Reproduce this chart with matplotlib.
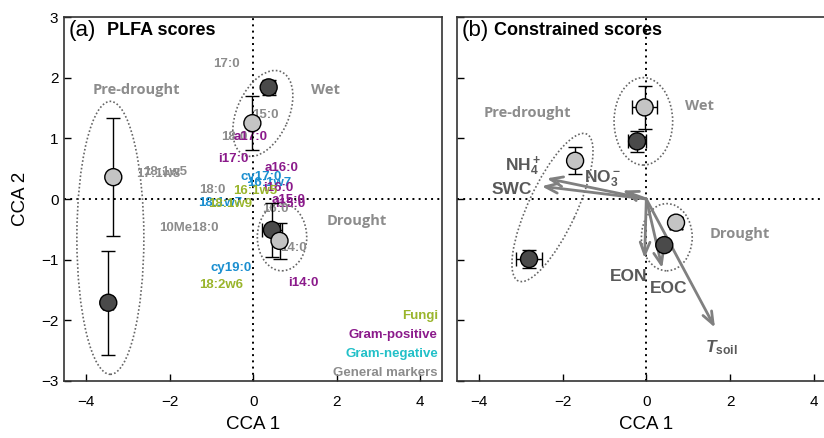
import matplotlib
matplotlib.use("Agg")
import matplotlib.pyplot as plt
from matplotlib import font_manager
from matplotlib.patches import Ellipse
from matplotlib.transforms import ScaledTranslation

# site scores, panel (a)
a_x = [-3.35, -3.47, 0.37, -0.02, 0.45, 0.63]
a_y = [0.36, -1.71, 1.84, 1.25, -0.51, -0.69]
a_xerr = [0.12, 0.12, 0.14, 0.0, 0.24, 0.10]
a_yerr = [0.97, 0.86, 0.12, 0.45, 0.45, 0.30]
a_shade = ["light", "dark", "dark", "light", "dark", "light"]

# PLFA labels, panel (a)
plfa_names = ["17:0", "15:0", "18:0", "a17:0", "i17:0", "17:1w8", "18:1w5", "a16:0", "cy17:0",
              "16:1w7", "i16:0", "16:1w5", "18:0", "18:1w7", "18:1w9", "a15:0", "i15:0", "16:0",
              "10Me18:0", "14:0", "cy19:0", "18:2w6", "i14:0"]
plfa_x = [-0.65, 0.28, -0.45, -0.06, -0.48, -2.28, -2.10, 0.68, 0.20,
          0.38, 0.60, 0.04, -0.98, -0.80, -0.56, 0.84, 0.88, 0.52,
          -1.54, 0.97, -0.53, -0.77, 1.21]
plfa_y = [2.22, 1.39, 1.03, 1.03, 0.66, 0.41, 0.44, 0.51, 0.37,
          0.27, 0.18, 0.125, 0.15, -0.07, -0.09, -0.01, -0.09, -0.17,
          -0.47, -0.81, -1.13, -1.41, -1.39]
plfa_group = ["general", "general", "general", "gpos", "gpos", "general", "general", "gpos", "gneg",
              "gneg", "gpos", "fungi", "general", "gneg", "fungi", "gpos", "gpos", "general",
              "general", "general", "gneg", "fungi", "gpos"]

# site scores, panel (b)
b_x = [-1.70, -2.80, -0.04, -0.22, 0.71, 0.43]
b_y = [0.63, -0.99, 1.51, 0.95, -0.39, -0.76]
b_xerr = [0.05, 0.31, 0.30, 0.22, 0.15, 0.05]
b_yerr = [0.22, 0.15, 0.35, 0.17, 0.10, 0.05]
b_shade = ["light", "dark", "light", "dark", "light", "dark"]

# environmental vectors, panel (b)
env_names = ["NH$_4^+$", "SWC", "NO$_3^-$", "EON", "EOC", r"$\mathbfit{T}_{\mathbf{soil}}$"]
env_x = [-2.38, -2.50, -0.57, -0.04, 0.38, 1.64]
env_y = [0.34, 0.21, 0.14, -0.98, -1.14, -2.12]
env_lx = [-2.95, -3.22, -1.05, -0.43, 0.53, 1.80]
env_ly = [0.55, 0.15, 0.34, -1.28, -1.48, -2.45]

groups = ["Pre-drought", "Wet", "Drought"]
a_group_x = [-2.80, 1.74, 2.47]
a_group_y = [1.80, 1.80, -0.36]
b_group_x = [-2.83, 1.26, 2.24]
b_group_y = [1.42, 1.54, -0.58]

legend_names = ["Fungi", "Gram-positive", "Gram-negative", "General markers"]

installed = {f.name for f in font_manager.fontManager.ttflist}
narrow = "Liberation Sans Narrow" in installed
TICK_FONT = ["Liberation Sans Narrow" if narrow else "Liberation Sans", "DejaVu Sans"]
tick_size = 12.5 if narrow else 11
axlabel_size = 15 if narrow else 13.5

plt.rcParams["font.family"] = ["Liberation Sans", "DejaVu Sans"]
plt.rcParams["mathtext.fontset"] = "custom"
plt.rcParams["mathtext.rm"] = "Liberation Sans:bold"
plt.rcParams["mathtext.bf"] = "Liberation Sans:bold"
plt.rcParams["mathtext.it"] = "Liberation Sans:italic:bold"
plt.rcParams["mathtext.bfit"] = "Liberation Sans:italic:bold"
plt.rcParams["mathtext.default"] = "bf"

SHADE = {"light": "#c4c4c4", "dark": "#4a4a4a"}
GROUP_COL = {"general": "#8c8c8c", "gpos": "#8b1a8b", "gneg": "#1b8fd0", "fungi": "#9ab52c"}
LEGEND_COL = ["#9ab52c", "#8b1a8b", "#22c0c8", "#8c8c8c"]
GRAY_TXT = "#8c8c8c"

fig = plt.figure(figsize=(8.24, 4.38), dpi=100)
ax_a = fig.add_axes([64 / 824, 57 / 438, 378 / 824, 364 / 438])
ax_b = fig.add_axes([457 / 824, 57 / 438, 379 / 824, 364 / 438])


def ring(ax, x, y, a, b, angle):
    # a, b: semi-axes in pixels, so the ellipse keeps its on-screen shape
    tr = fig.dpi_scale_trans + ScaledTranslation(x, y, ax.transData)
    ax.add_artist(Ellipse((0, 0), 2 * a / 100, 2 * b / 100, angle=angle, transform=tr,
                          fill=False, ec="#666666", lw=1.2, ls=(0, (1, 1.3)), zorder=1.5))


def sites(ax, x, y, xerr, yerr, shade):
    ax.errorbar(x, y, xerr=xerr, yerr=yerr, fmt="none", ecolor="black", elinewidth=1,
                capsize=5, capthick=1, zorder=3)
    ax.scatter(x, y, s=150, c=[SHADE[s] for s in shade], edgecolors="black", linewidths=1, zorder=4)


for ax, xl in [(ax_a, (-4.53, 4.52)), (ax_b, (-4.52, 4.53))]:
    ax.axhline(0, color="black", ls=(0, (1, 2.2)), lw=1.4, zorder=1)
    ax.axvline(0, color="black", ls=(0, (1, 2.2)), lw=1.4, zorder=1)
    ax.set_xlim(*xl)
    ax.set_ylim(-3, 3)
    ax.set_xticks([-4, -2, 0, 2, 4], ["\u22124", "\u22122", "0", "2", "4"])
    ax.set_yticks([-3, -2, -1, 0, 1, 2, 3])
    ax.tick_params(direction="in", length=5, width=1)
    ax.tick_params(axis="x", pad=10)
    ax.tick_params(axis="y", pad=4)
    for lab in ax.get_xticklabels() + ax.get_yticklabels():
        lab.set_family(TICK_FONT)
        lab.set_fontsize(tick_size)
    for sp in ax.spines.values():
        sp.set_linewidth(1.2)
        sp.set_color("#333333")
    ax.set_xlabel("CCA 1", family=TICK_FONT, fontsize=axlabel_size)
    ax.xaxis.set_label_coords(0.5, -0.096)

ax_a.set_yticklabels(["\u22123", "\u22122", "\u22121", "0", "1", "2", "3"], family=TICK_FONT, fontsize=tick_size)
ax_a.set_ylabel("CCA 2", family=TICK_FONT, fontsize=axlabel_size)
ax_a.yaxis.set_label_coords(-0.093, 0.5)
ax_b.set_yticklabels([])

# panel (a)
ring(ax_a, -3.42, -0.64, 33.5, 136.5, 0)
ring(ax_a, 0.23, 1.41, 45.6, 25.9, 66)
ring(ax_a, 0.69, -0.63, 24.7, 33.6, 0)
for name, x, y, g in zip(plfa_names, plfa_x, plfa_y, plfa_group):
    ax_a.text(x, y, name, color=GROUP_COL[g], fontsize=9.5, fontweight="bold",
              ha="center", va="center", zorder=2)
sites(ax_a, a_x, a_y, a_xerr, a_yerr, a_shade)
for name, x, y in zip(groups, a_group_x, a_group_y):
    ax_a.text(x, y, name, color=GRAY_TXT, fontsize=10.5, fontweight="bold", family=["Open Sans", "DejaVu Sans"],
              ha="center", va="center", zorder=2)
for i, (name, col) in enumerate(zip(legend_names, LEGEND_COL)):
    ax_a.text(0.989, 0.179 - i * 0.0523, name, color=col, fontsize=9.5, fontweight="bold",
              ha="right", va="center", transform=ax_a.transAxes)
ax_a.text(0.012, 0.963, "(a)", fontsize=16, ha="left", va="center", transform=ax_a.transAxes)
ax_a.text(0.115, 0.963, "PLFA scores", fontsize=13, fontweight="bold", ha="left", va="center",
          transform=ax_a.transAxes)

# panel (b)
ring(ax_b, -2.24, -0.14, 81, 24, 65)
ring(ax_b, -0.07, 1.28, 29.3, 43.7, 0)
ring(ax_b, 0.49, -0.63, 25.4, 33.6, 0)
for x, y in zip(env_x, env_y):
    ax_b.annotate("", xy=(x, y), xytext=(0, 0),
                  arrowprops=dict(arrowstyle="->,head_length=0.9,head_width=0.35", color="#808080",
                                  lw=2, shrinkA=0, shrinkB=0), zorder=2.5)
for name, x, y in zip(env_names, env_lx, env_ly):
    ax_b.text(x, y, name, color="#595959", fontsize=12.5, fontweight="bold", ha="center", va="center", zorder=2)
sites(ax_b, b_x, b_y, b_xerr, b_yerr, b_shade)
for name, x, y in zip(groups, b_group_x, b_group_y):
    ax_b.text(x, y, name, color=GRAY_TXT, fontsize=10.5, fontweight="bold", family=["Open Sans", "DejaVu Sans"],
              ha="center", va="center", zorder=2)
ax_b.text(0.011, 0.963, "(b)", fontsize=16, ha="left", va="center", transform=ax_b.transAxes)
ax_b.text(0.097, 0.963, "Constrained scores", fontsize=13, fontweight="bold", ha="left", va="center",
          transform=ax_b.transAxes)

fig.savefig("out.png", dpi=100)
